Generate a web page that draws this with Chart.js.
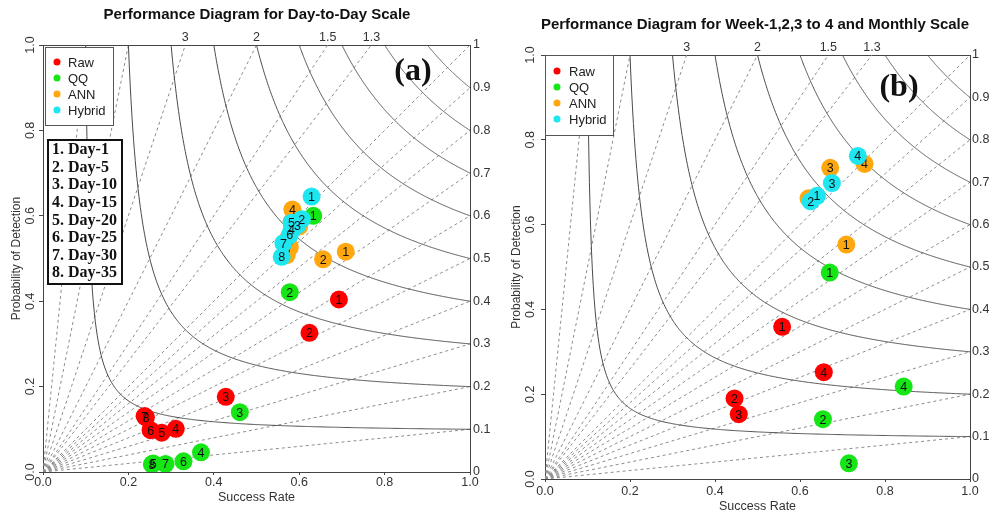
<!DOCTYPE html>
<html lang="en">
<head>
    <meta charset="UTF-8">
    <title>Performance Diagram</title>
    <script src="https://cdn.jsdelivr.net/npm/chart.js@4.4.0/dist/chart.umd.min.js"></script>
    <style>
        body { margin: 0; background: #fff; }
        .panel { position: absolute; top: 0; width: 497px; height: 514px; }
        #pa { left: 0; }
        #pb { left: 497px; }
    </style>
</head>
<body>
    <div class="panel" id="pa"><canvas id="chartA" width="497" height="514"></canvas></div>
    <div class="panel" id="pb"><canvas id="chartB" width="497" height="514"></canvas></div>

    <script>
        // ---- data ----
        const seriesNames = ['Raw', 'QQ', 'ANN', 'Hybrid'];
        const seriesColors = ['#ff0000', '#16e616', '#ffa70f', '#1ee6f0'];

        const dayLabels = ['1', '2', '3', '4', '5', '6', '7', '8'];
        const dayNames = ['1. Day-1', '2. Day-5', '3. Day-10', '4. Day-15', '5. Day-20', '6. Day-25', '7. Day-30', '8. Day-35'];
        const weekLabels = ['1', '2', '3', '4'];

        // panel (a) : day-to-day
        const rawSR_a  = [0.693, 0.624, 0.428, 0.311, 0.278, 0.252, 0.238, 0.241];
        const rawPOD_a = [0.404, 0.326, 0.176, 0.101, 0.092, 0.098, 0.131, 0.128];
        const qqSR_a   = [0.633, 0.578, 0.461, 0.370, 0.258, 0.329, 0.287, 0.255];
        const qqPOD_a  = [0.600, 0.421, 0.140, 0.046, 0.020, 0.025, 0.019, 0.018];
        const annSR_a  = [0.709, 0.656, 0.600, 0.584, 0.582, 0.574, 0.578, 0.571];
        const annPOD_a = [0.516, 0.498, 0.575, 0.615, 0.586, 0.547, 0.526, 0.508];
        const hybSR_a  = [0.629, 0.606, 0.596, 0.582, 0.582, 0.578, 0.563, 0.559];
        const hybPOD_a = [0.645, 0.592, 0.578, 0.567, 0.584, 0.555, 0.536, 0.504];

        // panel (b) : week-1,2,3 to 4 and monthly
        const rawSR_b  = [0.558, 0.446, 0.456, 0.656];
        const rawPOD_b = [0.359, 0.190, 0.153, 0.252];
        const qqSR_b   = [0.670, 0.654, 0.715, 0.844];
        const qqPOD_b  = [0.487, 0.141, 0.037, 0.218];
        const annSR_b  = [0.709, 0.620, 0.671, 0.752];
        const annPOD_b = [0.553, 0.662, 0.734, 0.743];
        const hybSR_b  = [0.640, 0.625, 0.675, 0.736];
        const hybPOD_b = [0.668, 0.655, 0.698, 0.762];

        // background lines and tick labels
        const csiValues = [0.1, 0.2, 0.3, 0.4, 0.5, 0.6, 0.7, 0.8, 0.9];
        const biasValues = [0.1, 0.2, 0.3, 0.4, 0.5, 0.6, 0.7, 0.8, 0.9, 1, 1.3, 1.5, 2, 3, 5, 10];
        const topBiasLabels = [3, 2, 1.5, 1.3];
        const axisTickValues = [0, 0.2, 0.4, 0.6, 0.8, 1];
        const axisTickLabels = ['0.0', '0.2', '0.4', '0.6', '0.8', '1.0'];
        const rightTickValues = [0, 0.1, 0.2, 0.3, 0.4, 0.5, 0.6, 0.7, 0.8, 0.9, 1];
        const rightTickLabels = ['0', '0.1', '0.2', '0.3', '0.4', '0.5', '0.6', '0.7', '0.8', '0.9', '1'];

        const SANS = "'Liberation Sans', Arial, sans-serif";
        const SERIF = "'Liberation Serif', 'Times New Roman', serif";

        function makeDatasets(srs, pods, labels) {
            return seriesNames.map((name, k) => ({
                label: name,
                data: srs[k].map((v, i) => ({ x: v, y: pods[k][i] })),
                pointLabels: labels,
                backgroundColor: seriesColors[k],
                borderColor: seriesColors[k],
                borderWidth: 0,
                pointRadius: 9,
                pointHoverRadius: 9,
                order: seriesNames.length - k
            }));
        }

        // draws CSI curves, bias lines, point numbers, legends and labels
        const perfPlugin = {
            id: 'perf',
            beforeDatasetsDraw(chart) {
                const { ctx, chartArea: a, scales: { x, y } } = chart;
                ctx.save();
                ctx.beginPath();
                ctx.rect(a.left, a.top, a.right - a.left, a.bottom - a.top);
                ctx.clip();
                // bias lines
                ctx.strokeStyle = '#8c8c8c';
                ctx.lineWidth = 1;
                ctx.setLineDash([3, 3]);
                biasValues.forEach(b => {
                    const ex = b >= 1 ? 1 / b : 1;
                    const ey = b >= 1 ? 1 : b;
                    ctx.beginPath();
                    ctx.moveTo(x.getPixelForValue(0), y.getPixelForValue(0));
                    ctx.lineTo(x.getPixelForValue(ex), y.getPixelForValue(ey));
                    ctx.stroke();
                });
                // CSI curves
                ctx.setLineDash([]);
                ctx.strokeStyle = '#4a4a4a';
                csiValues.forEach(c => {
                    ctx.beginPath();
                    for (let i = 0; i <= 400; i++) {
                        const sr = c + (1 - c) * i / 400;
                        const pod = 1 / (1 / c + 1 - 1 / sr);
                        const px = x.getPixelForValue(sr), py = y.getPixelForValue(pod);
                        if (i === 0) ctx.moveTo(px, py); else ctx.lineTo(px, py);
                    }
                    ctx.stroke();
                });
                ctx.restore();
            },
            afterDatasetDraw(chart, args) {
                const { ctx } = chart;
                const ds = chart.data.datasets[args.index];
                ctx.save();
                ctx.fillStyle = '#111';
                ctx.font = '12.5px ' + SANS;
                ctx.textAlign = 'center';
                ctx.textBaseline = 'middle';
                args.meta.data.forEach((p, i) => {
                    ctx.fillText(ds.pointLabels[i], p.x, p.y + 1);
                });
                ctx.restore();
            },
            afterDraw(chart, args, o) {
                const { ctx } = chart;
                ctx.save();
                // title
                ctx.fillStyle = '#111';
                ctx.font = 'bold 15px ' + SANS;
                ctx.textAlign = 'center';
                ctx.textBaseline = 'middle';
                ctx.fillText(o.title, o.titleX, o.titleY);

                // series legend
                const L = o.legend;
                ctx.fillStyle = '#fff';
                ctx.fillRect(L.x, L.y, L.w, L.h);
                ctx.strokeStyle = '#555';
                ctx.lineWidth = 1;
                ctx.strokeRect(L.x + 0.5, L.y + 0.5, L.w, L.h);
                ctx.font = '13px ' + SANS;
                ctx.textAlign = 'left';
                seriesNames.forEach((name, k) => {
                    const ry = L.row0 + k * L.step;
                    ctx.fillStyle = seriesColors[k];
                    ctx.beginPath();
                    ctx.arc(L.dotX, ry, 3.5, 0, Math.PI * 2);
                    ctx.fill();
                    ctx.fillStyle = '#222';
                    ctx.fillText(name, L.textX, ry + 1);
                });

                // lead-time legend
                if (o.days) {
                    const D = o.days;
                    ctx.fillStyle = '#fff';
                    ctx.fillRect(D.x, D.y, D.w, D.h);
                    ctx.strokeStyle = '#111';
                    ctx.lineWidth = 2;
                    ctx.strokeRect(D.x, D.y, D.w, D.h);
                    ctx.fillStyle = '#111';
                    ctx.font = 'bold 16px ' + SERIF;
                    dayNames.forEach((t, i) => ctx.fillText(t, D.x + 4, D.row0 + i * D.step));
                }

                // panel letter
                ctx.fillStyle = '#111';
                ctx.font = 'bold 32px ' + SERIF;
                ctx.textAlign = 'center';
                ctx.fillText(o.letter, o.letterX, o.letterY);
                ctx.restore();
            }
        };

        function makeScales(g) {
            const tickFont = { family: SANS, size: 12.5 };
            const tickColor = '#333';
            const border = { display: true, color: '#444', width: 1 };
            return {
                x: {
                    type: 'linear', position: 'bottom', min: 0, max: 1,
                    afterFit: s => { s.height = g.bottomH; },
                    afterBuildTicks: s => { s.ticks = axisTickValues.map(v => ({ value: v })); },
                    ticks: { autoSkip: false, padding: g.xPad, color: tickColor, font: tickFont,
                             callback: (v, i) => axisTickLabels[i] },
                    grid: { drawOnChartArea: false, drawTicks: true, tickLength: 3, color: '#444' },
                    border: border,
                    title: { display: true, text: 'Success Rate', color: '#333',
                             font: { family: SANS, size: 12.5 }, padding: { top: 0, bottom: g.xTitlePad } }
                },
                x2: {
                    type: 'linear', position: 'top', min: 0, max: 1,
                    afterFit: s => { s.height = g.topH; },
                    afterBuildTicks: s => { s.ticks = topBiasLabels.map(b => ({ value: 1 / b })); },
                    ticks: { autoSkip: false, padding: 0, color: tickColor, font: tickFont,
                             callback: (v, i) => String(topBiasLabels[i]) },
                    grid: { drawOnChartArea: false, drawTicks: false },
                    border: border
                },
                y: {
                    type: 'linear', position: 'left', min: 0, max: 1,
                    afterFit: s => { s.width = g.leftW; },
                    afterBuildTicks: s => { s.ticks = axisTickValues.map(v => ({ value: v })); },
                    ticks: { autoSkip: false, padding: g.yPad, color: tickColor, font: tickFont,
                             minRotation: 90, maxRotation: 90, crossAlign: 'center',
                             callback: (v, i) => axisTickLabels[i] },
                    grid: { drawOnChartArea: false, drawTicks: true, tickLength: 4, color: '#444' },
                    border: border,
                    title: { display: true, text: 'Probability of Detection', color: '#333',
                             font: { family: SANS, size: 12 }, padding: { top: g.yTitlePad, bottom: 0 } }
                },
                y2: {
                    type: 'linear', position: 'right', min: 0, max: 1,
                    afterFit: s => { s.width = g.rightW; },
                    afterBuildTicks: s => { s.ticks = rightTickValues.map(v => ({ value: v })); },
                    ticks: { autoSkip: false, padding: g.rPad, color: tickColor, font: tickFont,
                             callback: (v, i) => rightTickLabels[i] },
                    grid: { drawOnChartArea: false, drawTicks: false },
                    border: border
                }
            };
        }

        function makeChart(id, datasets, g, perf) {
            return new Chart(document.getElementById(id), {
                type: 'scatter',
                data: { datasets: datasets },
                options: {
                    responsive: false,
                    animation: false,
                    devicePixelRatio: 1,
                    layout: { padding: 0 },
                    scales: makeScales(g),
                    plugins: { legend: { display: false }, tooltip: { enabled: false }, perf: perf }
                },
                plugins: [perfPlugin]
            });
        }

        makeChart('chartA',
            makeDatasets([rawSR_a, qqSR_a, annSR_a, hybSR_a], [rawPOD_a, qqPOD_a, annPOD_a, hybPOD_a], dayLabels),
            { leftW: 43, rightW: 27, topH: 45, bottomH: 42, xPad: 0, yPad: 0, rPad: 3, xTitlePad: 8.5, yTitlePad: 9 },
            {
                title: 'Performance Diagram for Day-to-Day Scale', titleX: 257, titleY: 15,
                legend: { x: 45, y: 47, w: 68, h: 78, row0: 62, step: 16, dotX: 57, textX: 68 },
                days: { x: 48, y: 140, w: 74, h: 144, row0: 150, step: 17.6 },
                letter: '(a)', letterX: 413, letterY: 72
            });

        makeChart('chartB',
            makeDatasets([rawSR_b, qqSR_b, annSR_b, hybSR_b], [rawPOD_b, qqPOD_b, annPOD_b, hybPOD_b], weekLabels),
            { leftW: 48, rightW: 24, topH: 55, bottomH: 35, xPad: 2, yPad: 2, rPad: 2, xTitlePad: 0, yTitlePad: 12 },
            {
                title: 'Performance Diagram for Week-1,2,3 to 4 and Monthly Scale', titleX: 258, titleY: 25,
                legend: { x: 48, y: 55, w: 68, h: 80, row0: 71, step: 16, dotX: 60, textX: 72 },
                days: null,
                letter: '(b)', letterX: 402, letterY: 88
            });
    </script>
</body>
</html>
